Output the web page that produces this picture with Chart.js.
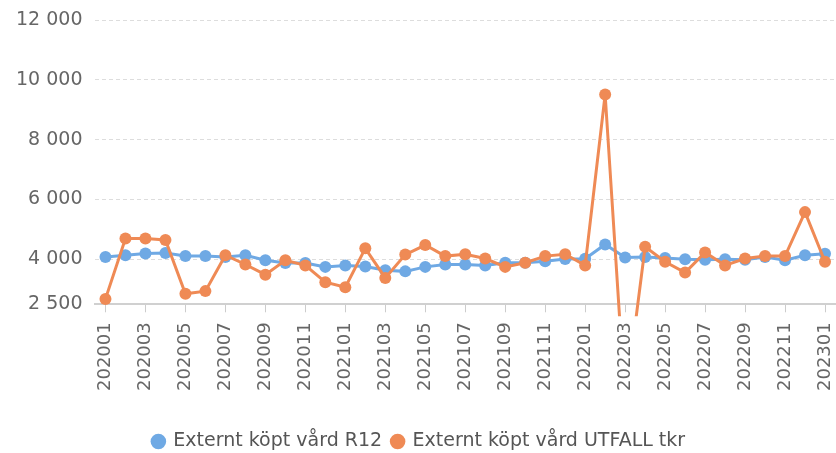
<!DOCTYPE html>
<html>
<head>
<meta charset="utf-8">
<script src="https://cdn.jsdelivr.net/npm/chart.js@4/dist/chart.umd.min.js"></script>
<style>
    html, body { margin: 0; padding: 0; background: #fff; overflow: hidden; }
    #wrap { width: 836px; height: 453px; }
</style>
</head>
<body>
<div id="wrap"><canvas id="chart"></canvas></div>
<script>
// Months on the x axis
const months = [
    '202001', '202002', '202003', '202004', '202005', '202006', '202007', '202008', '202009', '202010', '202011', '202012',
    '202101', '202102', '202103', '202104', '202105', '202106', '202107', '202108', '202109', '202110', '202111', '202112',
    '202201', '202202', '202203', '202204', '202205', '202206', '202207', '202208', '202209', '202210', '202211', '202212',
    '202301'
];

// Externt köpt vård R12
const r12 = [
    4080, 4140, 4200, 4210, 4110, 4110, 4080, 4140, 3970, 3880, 3880, 3750,
    3800, 3760, 3640, 3600, 3750, 3830, 3830, 3800, 3890, 3890, 3940, 4010,
    4025, 4500, 4060, 4080, 4050, 4005, 3990, 4005, 3990, 4080, 3970, 4140,
    4190
];

// Externt köpt vård UTFALL tkr
const utfall = [
    2680, 4700, 4700, 4650, 2850, 2940, 4140, 3830, 3490, 3970, 3800, 3240,
    3070, 4370, 3380, 4160, 4480, 4110, 4170, 4030, 3750, 3890, 4110, 4170,
    3800, 9510, -800, 4420, 3920, 3560, 4230, 3800, 4030, 4110, 4110, 5580,
    3920
];

const yTicks = [2500, 4000, 6000, 8000, 10000, 12000];

const blue = '#6fa9e4';
const orange = '#ef8a55';
const fontFamily = '"DejaVu Sans", sans-serif';

function formatNumber(v) {
    return String(v).replace(/\B(?=(\d{3})+(?!\d))/g, ' ');
}

const ctx = document.getElementById('chart').getContext('2d');
const chart = new Chart(ctx, {
    type: 'line',
    data: {
        labels: months,
        datasets: [
            {
                label: 'Externt köpt vård R12',
                data: r12,
                borderColor: blue,
                backgroundColor: blue,
                borderWidth: 3,
                pointRadius: 6,
                pointBorderWidth: 0,
                tension: 0,
                order: 2
            },
            {
                label: 'Externt köpt vård UTFALL tkr',
                data: utfall,
                borderColor: orange,
                backgroundColor: orange,
                borderWidth: 3,
                pointRadius: 6,
                pointBorderWidth: 0,
                tension: 0,
                order: 1,
                // the line runs a little below the axis before it is cut
                clip: { left: 10, right: 10, top: 10, bottom: 12 }
            }
        ]
    },
    options: {
        responsive: true,
        maintainAspectRatio: false,
        animation: false,
        layout: {
            autoPadding: false,
            padding: { top: 20, right: 1, left: 3, bottom: -8 }
        },
        scales: {
            x: {
                offset: true,
                afterFit: (scale) => {
                    // let the last label run to the edge, leave room above the legend
                    scale.paddingLeft = 0;
                    scale.paddingRight = 0;
                    scale.height += 21;
                },
                grid: {
                    offset: false,
                    drawOnChartArea: false,
                    drawTicks: true,
                    tickLength: 8,
                    color: '#cccccc',
                    lineWidth: 1
                },
                border: { display: true, color: '#d0d0d0', width: 2 },
                ticks: {
                    autoSkip: true,
                    maxTicksLimit: 19,
                    minRotation: 90,
                    maxRotation: 90,
                    padding: 10,
                    color: '#666666',
                    font: { family: fontFamily, size: 18 }
                }
            },
            y: {
                min: 2500,
                max: 12000,
                afterBuildTicks: (axis) => {
                    axis.ticks = yTicks.map(v => ({ value: v }));
                },
                afterFit: (scale) => {
                    scale.paddingTop = 0;
                    scale.paddingBottom = 0;
                },
                grid: {
                    drawTicks: false,
                    color: '#dddddd',
                    lineWidth: 1
                },
                border: { display: false, dash: [4, 3] },
                ticks: {
                    padding: 13,
                    color: '#666666',
                    font: { family: fontFamily, size: 19 },
                    callback: (v) => formatNumber(v)
                }
            }
        },
        plugins: {
            legend: {
                display: true,
                position: 'bottom',
                labels: {
                    usePointStyle: true,
                    boxWidth: 11,
                    boxHeight: 11,
                    padding: 10,
                    color: '#555555',
                    font: { family: fontFamily, size: 19 },
                    sort: (a, b) => a.datasetIndex - b.datasetIndex
                }
            },
            tooltip: { enabled: false }
        }
    }
});
</script>
</body>
</html>
